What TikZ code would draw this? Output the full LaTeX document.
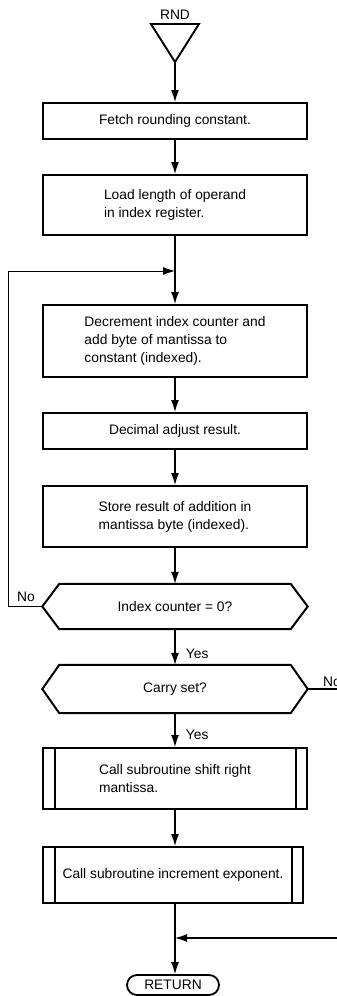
\documentclass[tikz,border=0pt]{standalone}
\usepackage{fontspec}
\setmainfont{Liberation Sans}
\usetikzlibrary{arrows.meta}

% hexagon round a decision node
\newcommand{\hexbox}[1]{%
  \draw[line width=2pt, line join=miter]
    ([xshift=17pt]#1.north west) -- ([xshift=-17pt]#1.north east) -- (#1.east)
    -- ([xshift=-17pt]#1.south east) -- ([xshift=17pt]#1.south west) -- (#1.west) -- cycle;}
% side bars of a subroutine box
\newcommand{\subbars}[1]{%
  \draw[line width=1.8pt]
    ([xshift=13pt]#1.north west) -- ([xshift=13pt]#1.south west)
    ([xshift=-12pt]#1.north east) -- ([xshift=-12pt]#1.south east);}

\begin{document}
\begin{tikzpicture}[x=1pt, y=-1pt,
        every node/.style={font=\fontsize{13.8}{18}\selectfont},
        proc/.style={draw, line width=2pt, minimum width=264pt, inner sep=0pt, align=left},
        decision/.style={minimum width=265pt, inner sep=0pt},
        flow/.style={line width=1.2pt, -{Latex[length=12pt,width=8pt]}},
        link/.style={line width=1.2pt}]
        \useasboundingbox (0,0) rectangle (337,996);

        % Entry
        \node (rnd) at (175,15) {RND};
        \coordinate (tleft) at (151,24);
        \coordinate (tright) at (199,24);
        \coordinate (apex) at (175,62);
        \draw[line width=1.9pt, line join=miter] (tleft) -- (tright) -- (apex) -- cycle;

        % Boxes
        \node[proc, minimum height=36pt] (fetch) at (175,121) {Fetch rounding constant.};
        \node[proc, minimum height=60pt] (load) at (175,205) {Load length of operand\\in index register.};
        \coordinate (loopin) at (175,271);
        \node[proc, minimum height=72pt] (decr) at (175,341) {Decrement index counter and\\add byte of mantissa to\\constant (indexed).};
        \node[proc, minimum height=36pt] (adjust) at (175,431) {Decimal adjust result.};
        \node[proc, minimum height=61pt] (store) at (175,516.5) {Store result of addition in\\mantissa byte (indexed).};
        \node[decision, minimum height=45pt] (zero) at (175,606.5) {Index counter = 0?};
        \hexbox{zero}
        \node[decision, minimum height=48pt] (carry) at (175,689) {Carry set?};
        \hexbox{carry}
        \node[proc, minimum height=61pt] (shift) at (175,778.5) {Call subroutine shift right\\mantissa.};
        \subbars{shift}
        \node[proc, minimum width=260pt, minimum height=56pt] (incexp) at (173,875) {Call subroutine increment exponent.};
        \subbars{incexp}
        \coordinate (retin) at (175,938);
        \node[draw, line width=1.8pt, rounded corners=10pt, minimum width=92pt, minimum height=20pt, inner sep=0pt] (ret) at (173,985) {RETURN};

        % Flow
        \draw[flow] (apex) -- (fetch);
        \draw[flow] (fetch) -- (load);
        \draw[link] (load) -- (loopin);
        \draw[flow] (loopin) -- (decr);
        \draw[flow] (decr) -- (adjust);
        \draw[flow] (adjust) -- (store);
        \draw[flow] (store) -- (zero);
        \draw[flow] (zero) -- node[pos=0.7, anchor=west, xshift=7pt] (yes1) {Yes} (carry);
        \draw[flow] (carry) -- node[pos=0.63, anchor=west, xshift=7pt] (yes2) {Yes} (shift);
        \draw[flow] (shift.south) -- (shift.south |- incexp.north);
        \draw[link] (incexp.south -| retin) -- (retin);
        \draw[flow] (retin) -- (retin |- ret.north);

        % Loop back
        \coordinate (loopleft) at (8,271);
        \draw[flow, line width=1pt] (zero.west) -| (loopleft) -- (loopin);
        \node[anchor=south] (no1) at (26,605) {No};

        % Off to the right
        \coordinate (carryout) at (345,689);
        \draw[link] (carry.east) -- (carryout);
        \node[anchor=south west, inner sep=1pt] (no2) at (322,688) {No};
        \coordinate (retout) at (345,938);
        \draw[flow] (retout) -- (retin);
    \end{tikzpicture}
\end{document}
